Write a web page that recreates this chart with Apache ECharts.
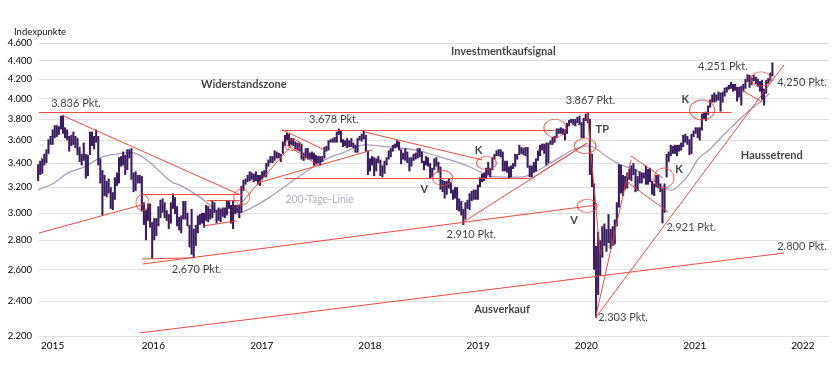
<!DOCTYPE html>
<html><head><meta charset="utf-8">
<script src="https://cdn.jsdelivr.net/npm/echarts@6/dist/echarts.min.js"></script>
<style>html,body{margin:0;padding:0;background:#fff}#c{width:840px;height:378px}</style>
</head><body><div id="c"></div>
<script>
// ---------- DATA ----------
const firstWeek = '2015-01-23'; // weekly bars (Fridays), [low, high]
const range2015 = [[3250,3390],[3300,3420],[3310,3440],[3380,3480],[3400,3520],[3480,3610],[3560,3640],[3560,3700],[3620,3740],[3630,3740],[3650,3730],[3700,3830],[3660,3836],[3620,3720],[3600,3700],[3500,3640],[3550,3650],[3560,3680],[3530,3640],[3470,3620],[3410,3540],[3380,3480],[3420,3580],[3270,3480],[3290,3470],[3470,3680],[3550,3680],[3520,3640],[3580,3700],[3380,3640],[3230,3440],[2980,3340],[3130,3300],[3120,3250],[3150,3270],[3030,3200],[3020,3160],[3100,3280],[3210,3320],[3230,3450],[3370,3460],[3380,3500],[3300,3470],[3340,3520],[3440,3520],[3260,3530],[3160,3320],[3170,3330],[3230,3300]];
const range2016 = [[3230,3300],[3010,3290],[2910,3080],[2800,3020],[2940,3070],[2890,3070],[2672,2930],[2800,2960],[2830,2960],[2900,3050],[2960,3100],[3000,3110],[2960,3080],[2940,3020],[2880,2990],[2920,3080],[3030,3150],[2990,3120],[2900,3050],[2870,2970],[2850,2980],[2950,3090],[2950,3090],[2900,3000],[2750,2910],[2700,3030],[2678,2880],[2760,2910],[2850,2980],[2910,2990],[2920,3000],[2890,3000],[2940,3060],[2930,3050],[2950,3030],[2960,3090],[3000,3080],[2920,3020],[2940,3040],[2930,3030],[2970,3040],[2960,3040],[2980,3090],[3030,3090],[2920,3060],[2880,3090],[2990,3060],[3000,3060],[2960,3060],[3000,3210],[3170,3260],[3220,3270],[3240,3300]];
const range2017 = [[3250,3330],[3260,3320],[3240,3310],[3250,3330],[3220,3300],[3210,3300],[3260,3330],[3280,3340],[3280,3400],[3370,3430],[3400,3460],[3400,3460],[3420,3510],[3440,3500],[3440,3490],[3410,3480],[3480,3590],[3550,3650],[3600,3670],[3550,3660],[3560,3620],[3550,3620],[3520,3590],[3510,3580],[3500,3580],[3430,3570],[3420,3490],[3440,3530],[3430,3530],[3430,3490],[3430,3500],[3380,3490],[3390,3470],[3400,3460],[3380,3460],[3410,3460],[3440,3540],[3500,3550],[3510,3600],[3580,3610],[3580,3620],[3580,3630],[3580,3680],[3650,3708],[3580,3690],[3540,3610],[3550,3600],[3530,3620],[3540,3600],[3540,3620],[3530,3580],[3490,3560]];
const range2018 = [[3490,3620],[3600,3640],[3590,3660],[3610,3690],[3500,3650],[3300,3510],[3330,3440],[3380,3460],[3290,3450],[3330,3440],[3400,3460],[3290,3430],[3280,3380],[3310,3420],[3380,3450],[3430,3510],[3450,3530],[3500,3560],[3530,3570],[3540,3600],[3510,3590],[3390,3520],[3430,3490],[3420,3530],[3400,3500],[3330,3450],[3370,3450],[3420,3480],[3430,3490],[3440,3530],[3450,3530],[3400,3500],[3340,3420],[3380,3460],[3370,3450],[3270,3400],[3280,3360],[3340,3440],[3370,3450],[3320,3410],[3180,3370],[3160,3260],[3110,3250],[3140,3250],[3190,3270],[3150,3240],[3100,3180],[3110,3200],[3020,3200],[3010,3110],[2980,3090],[2909,3030]];
const range2019 = [[2950,3080],[3030,3100],[3020,3150],[3090,3170],[3100,3180],[3100,3180],[3100,3220],[3200,3280],[3240,3310],[3250,3320],[3270,3360],[3300,3410],[3280,3360],[3340,3450],[3430,3480],[3460,3510],[3460,3520],[3450,3520],[3330,3500],[3330,3420],[3320,3420],[3270,3370],[3280,3380],[3350,3400],[3370,3480],[3430,3480],[3470,3560],[3480,3540],[3470,3530],[3460,3540],[3360,3540],[3280,3380],[3280,3380],[3320,3410],[3330,3440],[3420,3510],[3460,3560],[3510,3570],[3480,3570],[3380,3580],[3400,3580],[3560,3600],[3560,3630],[3580,3640],[3620,3710],[3660,3710],[3660,3720],[3650,3710],[3600,3700],[3660,3760],[3730,3790],[3760,3800]];
const range2020 = [[3740,3800],[3730,3800],[3760,3820],[3740,3830],[3620,3770],[3620,3810],[3780,3850],[3760,3867],[3300,3800],[3200,3480],[2600,3230],[2303,2760],[2440,2860],[2560,2800],[2680,2900],[2760,2920],[2720,2880],[2780,2990],[2740,2880],[2760,2900],[2770,2950],[2900,3080],[3040,3390],[3150,3384],[3130,3300],[3180,3290],[3190,3320],[3260,3350],[3250,3380],[3300,3400],[3160,3350],[3170,3290],[3230,3330],[3230,3320],[3270,3320],[3220,3380],[3220,3350],[3240,3360],[3140,3250],[3130,3230],[3200,3300],[3190,3300],[3160,3230],[2921,3190],[3000,3230],[3280,3480],[3410,3500],[3460,3560],[3480,3550],[3480,3560],[3460,3560],[3500,3560]];
const range2021 = [[3510,3580],[3540,3650],[3580,3660],[3560,3640],[3470,3610],[3480,3660],[3630,3690],[3660,3720],[3620,3720],[3600,3720],[3690,3850],[3800,3860],[3780,3870],[3840,3930],[3910,3990],[3960,4040],[3960,4060],[3970,4040],[3980,4070],[3870,4060],[3960,4070],[4020,4110],[4060,4120],[4090,4140],[4100,4170],[4070,4150],[4080,4150],[3970,4120],[4010,4120],[3930,4130],[4070,4150],[4100,4200],[4170,4251],[4110,4245],[4140,4215],[4180,4245],[4150,4225],[4120,4205],[4070,4180],[3990,4190],[3930,4100],[4050,4190],[4150,4210],[4180,4270],[4230,4380]];

const ma200Dates = ['2015-01-23','2015-03-15','2015-05-04','2015-06-28','2015-08-26','2015-10-19','2015-12-04','2016-01-18','2016-03-15','2016-04-19','2016-05-16','2016-07-22','2016-09-27','2016-11-23','2016-12-28','2017-03-15','2017-05-21','2017-07-26','2017-09-16','2017-11-22','2018-01-29','2018-04-16','2018-07-16','2018-10-01','2018-12-05','2019-01-27','2019-03-26','2019-05-21','2019-07-13','2019-09-09','2019-11-05','2020-01-01','2020-02-25','2020-04-27','2020-05-30','2020-08-18','2020-10-12','2020-11-29','2020-12-31','2021-01-26','2021-03-01','2021-04-05','2021-06-10','2021-08-14','2021-09-24','2021-10-26'];
const ma200Values = [3180,3230,3317,3368,3452,3480,3490,3440,3313,3240,3216,3121,3010,3000,3020,3121,3234,3345,3427,3495,3560,3542,3514,3460,3410,3358,3290,3282,3282,3342,3427,3514,3550,3452,3400,3317,3234,3175,3230,3300,3440,3514,3696,3870,3963,4050];

const yTicks = [2200,2400,2600,2800,3000,3200,3400,3600,3800,4000,4200,4400,4600];
const yearLabels = ['2015','2016','2017','2018','2019','2020','2021','2022'];

const redLines = [
  [['2015-01-26',3867],['2021-06-21',3867]],
  [['2015-04-13',3836],['2016-12-13',3130]],
  [['2015-01-26',2851],['2016-01-18',3067]],
  [['2016-01-08',3145],['2016-12-09',3145]],
  [['2016-08-14',3098],['2016-12-02',3098]],
  [['2016-08-01',2902],['2016-11-23',2939]],
  [['2016-01-08',2671],['2016-06-28',2678]],
  [['2016-01-11',2637],['2020-03-24',3060]],
  [['2016-01-01',2217],['2021-12-14',2711]],
  [['2017-04-24',3691],['2019-10-30',3691]],
  [['2016-11-24',3037],['2017-05-28',3558]],
  [['2017-04-27',3696],['2017-09-16',3514]],
  [['2017-05-11',3558],['2017-08-30',3375]],
  [['2017-02-02',3234],['2018-02-24',3514]],
  [['2017-05-04',3275],['2019-08-08',3275]],
  [['2018-01-28',3677],['2019-03-01',3427]],
  [['2018-12-23',2924],['2020-02-19',3576]],
  [['2019-08-08',3258],['2020-02-19',3576]],
  [['2020-02-19',3867],['2020-04-03',2698]],
  [['2020-03-18',2303],['2020-07-16',3427]],
  [['2020-03-18',2303],['2021-12-14',4353]],
  [['2020-07-16',3461],['2020-11-01',3275]],
  [['2020-07-03',3242],['2020-11-18',3006]],
  [['2021-07-25',4087],['2021-09-30',3965]]
];

const circleCenters = [['2016-01-10',3079],['2016-12-10',3122],['2017-05-31',3558],['2018-10-19',3275],['2019-03-16',3401],['2019-11-02',3713],['2020-02-12',3549],['2020-02-19',3052],['2020-11-04',3275],['2021-03-13',3886],['2021-09-27',4202]];
const circleSizes = [[13,16],[16,16],[16,11],[20,15],[20,13],[22,18],[22,15],[20,13],[20,20],[25,20],[20,14]];

const noteTexts = ['Widerstandszone','Investmentkaufsignal','3.836 Pkt.','3.678 Pkt.','3.867 Pkt.','4.251 Pkt.','4.250 Pkt.','TP','K','K','K','V','V','Haussetrend','200-Tage-Linie','2.670 Pkt.','2.910 Pkt.','2.921 Pkt.','2.800 Pkt.','2.303 Pkt.','Ausverkauf'];
const noteAnchors = [['2016-12-17',4149],['2019-05-12',4508],['2015-05-31',3955],['2017-10-17',3790],['2020-03-01',3985],['2021-05-22',4331],['2022-02-13',4160],['2020-04-10',3696],['2019-02-17',3514],['2021-01-15',3995],['2020-12-25',3342],['2018-08-18',3185],['2020-01-06',2946],['2021-11-03',3470],['2017-08-30',3098],['2016-07-11',2604],['2019-01-24',2844],['2021-02-04',2888],['2022-02-13',2759],['2020-06-19',2308],['2019-05-08',2355]];
const boldNotes = ['Widerstandszone','Investmentkaufsignal','TP','K','V','Haussetrend','Ausverkauf'];

// ---------- BUILD ----------
const D = s => { const p = s.split('-').map(Number); return Date.UTC(p[0], p[1]-1, p[2]); };
const DAY = 864e5;
const weeks = [].concat(range2015, range2016, range2017, range2018, range2019, range2020, range2021);
const t0 = D(firstWeek);
const bars = weeks.map((r, i) => [t0 + i*7*DAY, r[0], r[1]]);
const ma200 = ma200Dates.map((d, i) => [D(d), ma200Values[i]]);
const xMin = D('2015-01-26'), xMax = D('2022-05-15');
const yearTicks = yearLabels.map((y, i) => i === 0 ? xMin : D(y + '-01-01'));
const fmtDE = v => { v = Math.round(v); return Math.floor(v/1000) + '.' + String(v % 1000).padStart(3, '0'); };
const RED = '#ec4236';
const FONT = 'Lato';

const chart = echarts.init(document.getElementById('c'), null, {renderer: 'canvas'});
chart.setOption({
  animation: false,
  backgroundColor: '#fff',
  title: {text: 'Indexpunkte', left: 9, top: 22, textStyle: {fontSize: 9.5, fontWeight: 'normal', color: '#111', fontFamily: FONT}},
  grid: {left: 39, right: 11, top: 43, bottom: 42},
  xAxis: {
    type: 'value', min: xMin, max: xMax, scale: true,
    axisLine: {show: false}, axisTick: {show: false, customValues: yearTicks},
    splitLine: {show: false},
    axisLabel: {customValues: yearTicks, formatter: v => { const k = yearTicks.indexOf(v); return k >= 0 ? yearLabels[k] : ''; },
      align: 'left', margin: 5, color: '#000', fontSize: 10, fontFamily: FONT, padding: [0, 0, 0, 2]}
  },
  yAxis: {
    type: 'log', logBase: 10, min: 2200, max: 4600,
    axisLine: {show: false}, axisTick: {show: false, customValues: yTicks},
    axisLabel: {customValues: yTicks, formatter: fmtDE, color: '#000', fontSize: 9.5, fontFamily: FONT, margin: 7},
    splitLine: {show: true, lineStyle: {color: '#e0e0e0', width: 1}}
  },
  series: [
    {
      type: 'line', data: ma200, smooth: 0.35, showSymbol: false, silent: true, z: 2,
      lineStyle: {color: '#a99cc2', width: 1.3}
    },
    {
      type: 'custom', data: bars, encode: {x: 0, y: [1, 2]}, z: 3,
      renderItem: (params, api) => {
        const hi = api.coord([api.value(0), api.value(2)]);
        const lo = api.coord([api.value(0), api.value(1)]);
        return {type: 'rect', shape: {x: hi[0] - 1.05, y: hi[1], width: 2.1, height: Math.max(1, lo[1] - hi[1])},
          style: {fill: '#3a1c5f'}};
      }
    },
    {
      type: 'lines', coordinateSystem: 'cartesian2d', z: 4, silent: true,
      data: redLines.map(seg => ({coords: seg.map(p => [D(p[0]), p[1]])})),
      lineStyle: {color: RED, width: 1, opacity: 0.95}
    },
    {
      type: 'scatter', z: 5, silent: true,
      data: circleCenters.map((c, i) => ({value: [D(c[0]), c[1]], symbolSize: circleSizes[i]})),
      symbol: 'circle',
      itemStyle: {color: 'rgba(0,0,0,0)', borderColor: RED, borderWidth: 1}
    },
    {
      type: 'scatter', z: 6, silent: true, symbolSize: 1,
      itemStyle: {color: 'rgba(0,0,0,0)'},
      data: noteTexts.map((t, i) => ({
        value: [D(noteAnchors[i][0]), noteAnchors[i][1]], name: t,
        label: {
          show: true, position: 'inside', formatter: t,
          fontFamily: FONT, fontSize: t === '200-Tage-Linie' ? 10.5 : 11,
          fontWeight: boldNotes.includes(t) ? 'bold' : 'normal',
          color: t === '200-Tage-Linie' ? '#a596b9' : '#111'
        }
      }))
    }
  ]
});
</script>
</body></html>
